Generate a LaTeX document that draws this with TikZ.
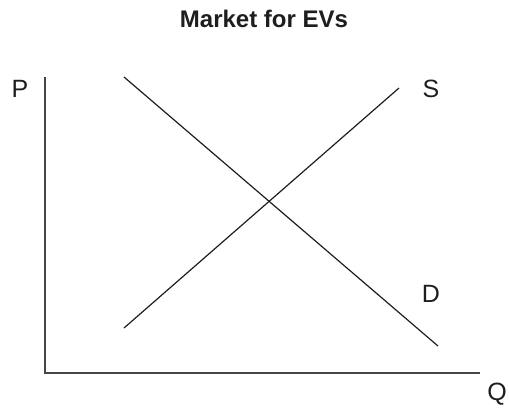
\documentclass[tikz,border=0pt]{standalone}
\usepackage{fontspec}
\setmainfont{Liberation Sans}
\usepackage{xcolor}
\usepackage{tikz}
\usetikzlibrary{positioning}
\definecolor{axisgray}{RGB}{70,70,70}
\definecolor{inkgray}{RGB}{30,30,30}

\begin{document}
\begin{tikzpicture}[
  x=0.5pt,y=-0.5pt,
  axis/.style={draw=axisgray,line width=1pt},
  curve/.style={draw=inkgray,line width=0.6pt},
  lbl/.style={font=\fontsize{12.5}{14}\selectfont,text=inkgray,inner sep=0pt}
]
\useasboundingbox (0,0) rectangle (509,408);
% title
\node[font=\fontsize{12}{14}\selectfont\bfseries,text=inkgray] (title) at (264,19) {Market for EVs};
% axes
\coordinate (ytop) at (45,77);
\coordinate (origin) at (45,373);
\coordinate (xend) at (480,373);
\draw[axis] (ytop) -- (origin) -- (xend);
% demand and supply
\coordinate (dtop) at (124,77);
\coordinate (dbot) at (438,346);
\coordinate (sbot) at (124,328);
\coordinate (stop) at (399,88);
\draw[curve] (dtop) -- (dbot);
\draw[curve] (sbot) -- (stop);
% labels
\node[lbl] (P) at (20,89) {P};
\node[lbl] (S) at (431,89) {S};
\node[lbl] (D) at (431,294) {D};
\node[lbl] (Q) at (497,394) {Q};
\end{tikzpicture}
\end{document}
